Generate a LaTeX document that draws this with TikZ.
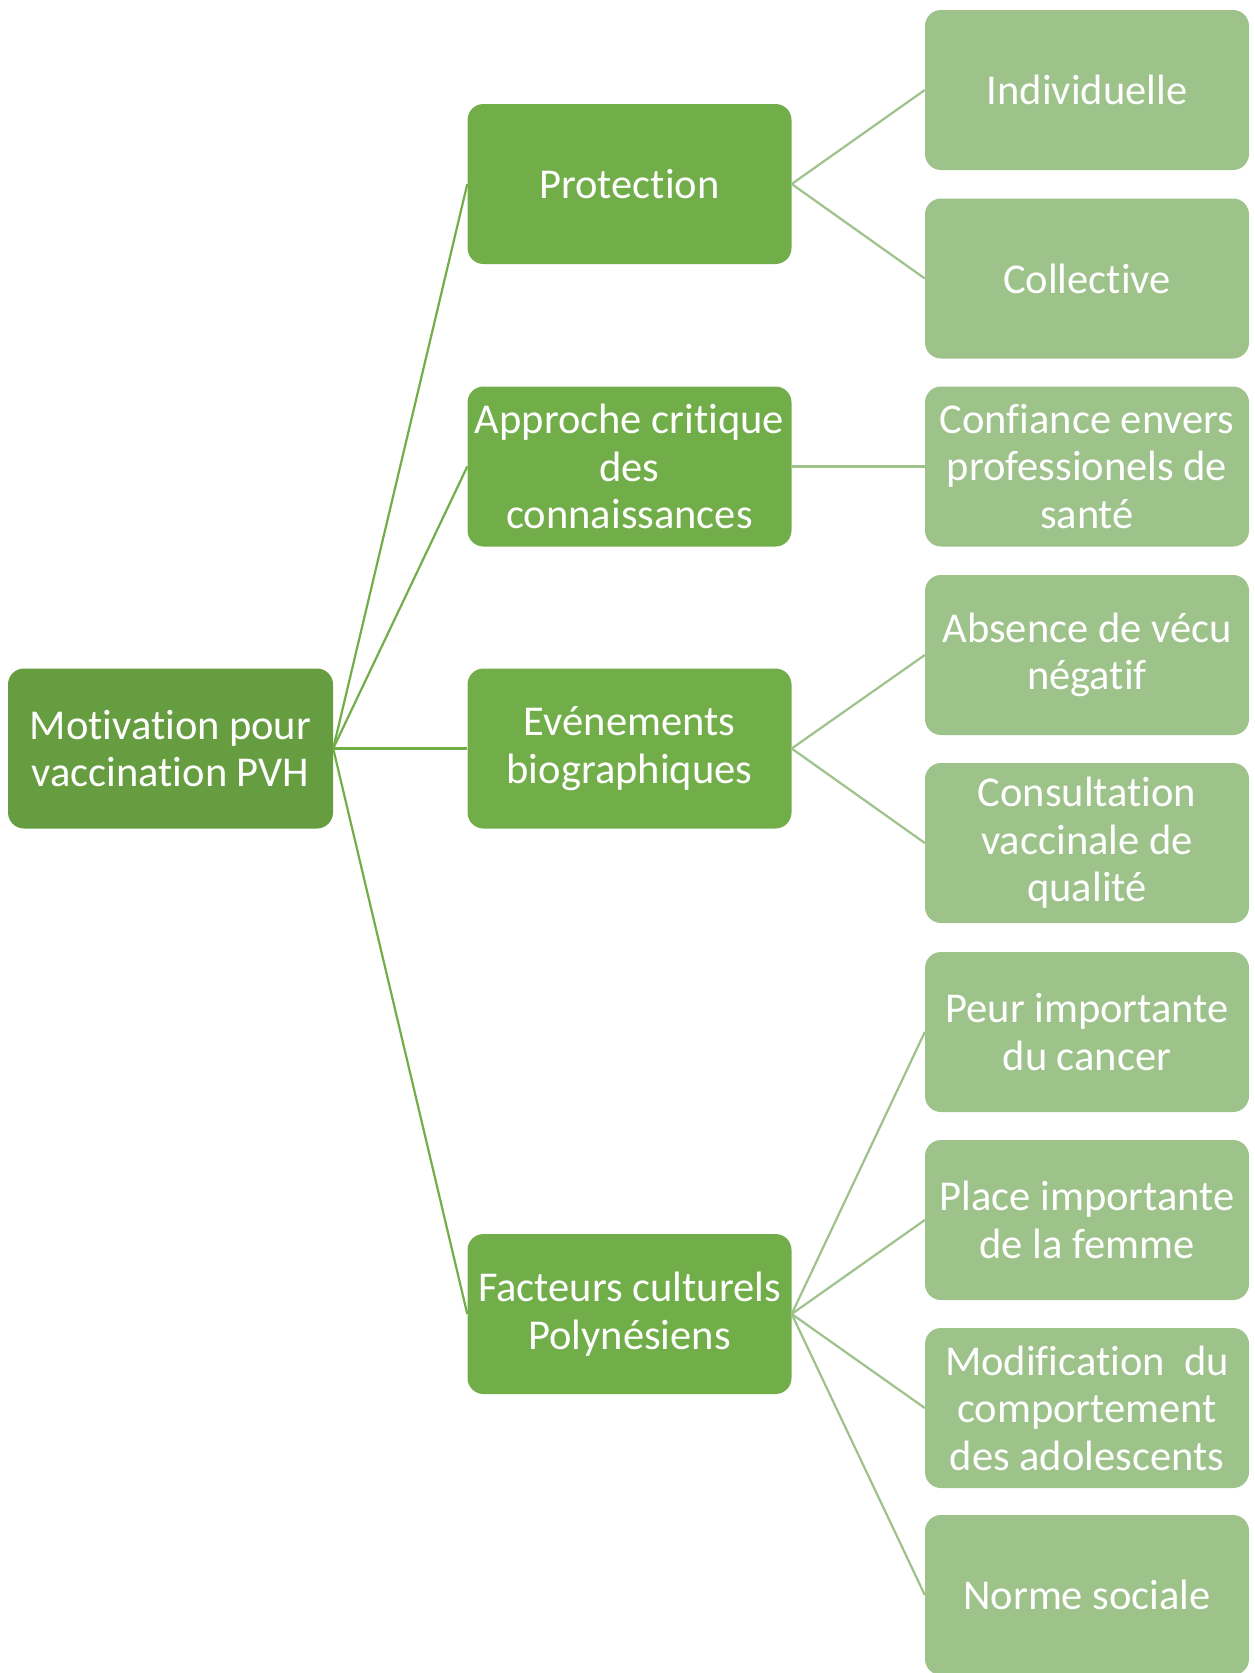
\documentclass[tikz,border=0pt]{standalone}
\usepackage{fontspec}
\setmainfont{Carlito}[Ligatures=NoCommon]
\definecolor{rootg}{HTML}{669D41}
\definecolor{midg}{HTML}{71AD48}
\definecolor{leafg}{HTML}{9DC28A}
\begin{document}
\begin{tikzpicture}[x=1pt,y=-1pt,
  box/.style={rectangle, rounded corners=16pt, minimum width=324pt, minimum height=160pt, inner sep=0pt, align=center, text=white, font=\fontsize{42.5}{47.5}\selectfont},
  rootbox/.style={box, fill=rootg},
  midbox/.style={box, fill=midg},
  leafbox/.style={box, fill=leafg},
  link1/.style={draw=midg, line width=2.2pt},
  link2/.style={draw=leafg, line width=2.2pt}]
\useasboundingbox (0,0) rectangle (1255,1673);
\node[rootbox, minimum width=325pt] (root) at (170.5,748.5) {Motivation pour\\vaccination PVH};
\node[midbox] (prot) at (629.5,184) {Protection};
\node[midbox] (appr) at (629.5,466.5) {Approche critique\\des\\connaissances};
\node[midbox] (even) at (629.5,748.5) {Evénements\\biographiques};
\node[midbox] (fact) at (629.5,1314) {Facteurs culturels\\Polynésiens};
\node[leafbox] (indiv) at (1087,90) {Individuelle};
\node[leafbox] (coll) at (1087,278.5) {Collective};
\node[leafbox] (conf) at (1087,466.5) {Confiance envers\\professionels de\\santé};
\node[leafbox] (abs) at (1087,655) {Absence de vécu\\négatif};
\node[leafbox] (cons) at (1087,843) {Consultation\\vaccinale de\\qualité};
\node[leafbox] (peur) at (1087,1032) {Peur importante\\du cancer};
\node[leafbox] (place) at (1087,1220) {Place importante\\de la femme};
\node[leafbox] (modif) at (1087,1408) {Modification~~du\\comportement\\des adolescents};
\node[leafbox] (norme) at (1087,1595) {Norme sociale};
\foreach \t in {prot,appr,even,fact}
  \draw[link1] (root.east) -- (\t.west);
\draw[link2] (prot.east) -- (indiv.west);
\draw[link2] (prot.east) -- (coll.west);
\draw[link2] (appr.east) -- (conf.west);
\draw[link2] (even.east) -- (abs.west);
\draw[link2] (even.east) -- (cons.west);
\foreach \t in {peur,place,modif,norme}
  \draw[link2] (fact.east) -- (\t.west);
\end{tikzpicture}
\end{document}
